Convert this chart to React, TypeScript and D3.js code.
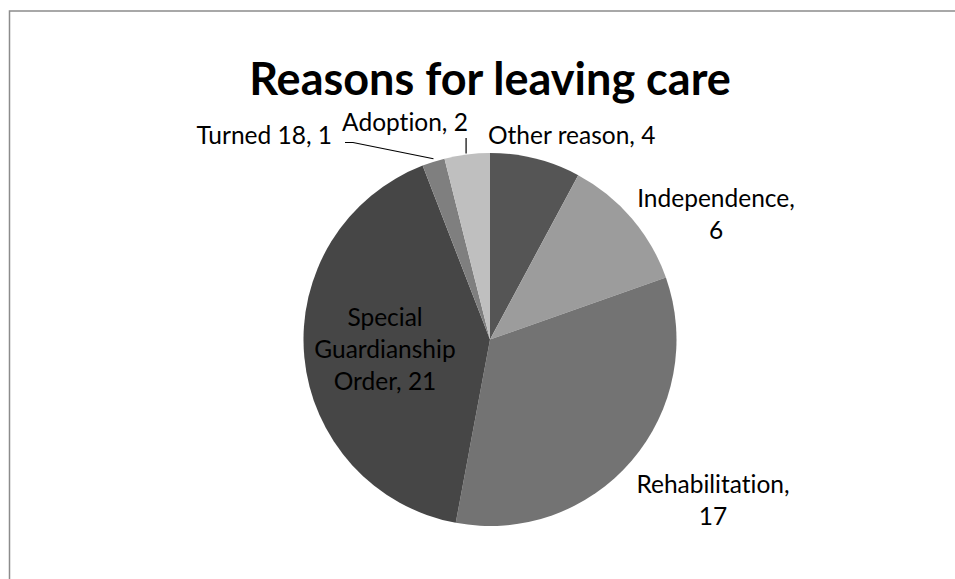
import React from "react";
import * as d3 from "d3";

const categories = ["Other reason", "Independence", "Rehabilitation", "Special Guardianship Order", "Turned 18", "Adoption"];
const values = [4, 6, 17, 21, 1, 2];
const colors = ["#555555", "#9c9c9c", "#737373", "#464646", "#7f7f7f", "#bfbfbf"];
const labelLines = [
  ["Other reason, 4"],
  ["Independence,", "6"],
  ["Rehabilitation,", "17"],
  ["Special", "Guardianship", "Order, 21"],
  ["Turned 18, 1"],
  ["Adoption, 2"],
];

const W = 955;
const H = 579;
const cx = 490;
const cy = 339.5;
const R = 186.5;
const FONT = "Lato, 'Open Sans', sans-serif";
const FS = 24.5;
const LH = 32;

// label layout: offset from pie center (x, first baseline y), anchor
const labelLayout = [
  { dx: -2, dy: -196, anchor: "start" },
  { dx: 226, dy: -132.5, anchor: "middle" },
  { dx: 223, dy: 153.5, anchor: "middle" },
  { dx: -105, dy: -14, anchor: "middle" },
  { dx: -158, dy: -196, anchor: "end" },
  { dx: -85, dy: -208.5, anchor: "middle" },
];

export default function App() {
  const pie = d3.pie<number>().sort(null).value((d) => d)(values);
  const arc = d3.arc<d3.PieArcDatum<number>>().innerRadius(0).outerRadius(R);
  const pt = (a: number, r: number) => [cx + r * Math.sin(a), cy - r * Math.cos(a)];

  const t18 = pie[4];
  const t18mid = (t18.startAngle + t18.endAngle) / 2;
  const t18p = pt(t18mid, R);
  const ad = pie[5];
  const admid = (ad.startAngle + ad.endAngle) / 2;
  const adp = pt(admid, R);

  return (
    <svg
      width={W}
      height={H}
      style={{ display: "block", position: "absolute", left: 0, top: 0, fontVariantLigatures: "none" }}
    >
      <rect x={0} y={0} width={W} height={H} fill="#ffffff" />
      <rect x={9.5} y={11} width={W + 20} height={H + 20} fill="none" stroke="#8c8c8c" strokeWidth={1.5} />
      <text x={cx} y={95} textAnchor="middle" fontFamily={FONT} fontWeight="bold" fontSize={45} fill="#000">
        Reasons for leaving care
      </text>
      <g transform={`translate(${cx},${cy})`}>
        {pie.map((p, i) => (
          <path key={categories[i]} d={arc(p) || ""} fill={colors[i]} />
        ))}
      </g>
      <polyline
        points={`${cx - 145},${cy - 197} ${cx - 137},${cy - 197} ${t18p[0]},${t18p[1] - 3}`}
        fill="none"
        stroke="#000"
        strokeWidth={1.2}
      />
      <line x1={adp[0] - 1} y1={cy - 201.5} x2={adp[0] - 1} y2={adp[1] - 1} stroke="#000" strokeWidth={1.2} />
      {labelLines.map((lines, i) => (
        <text
          key={i}
          x={cx + labelLayout[i].dx}
          y={cy + labelLayout[i].dy}
          textAnchor={labelLayout[i].anchor}
          fontFamily={FONT}
          fontSize={FS}
          fill="#000"
        >
          {lines.map((l, j) => (
            <tspan key={j} x={cx + labelLayout[i].dx} dy={j === 0 ? 0 : LH}>
              {l}
            </tspan>
          ))}
        </text>
      ))}
    </svg>
  );
}
